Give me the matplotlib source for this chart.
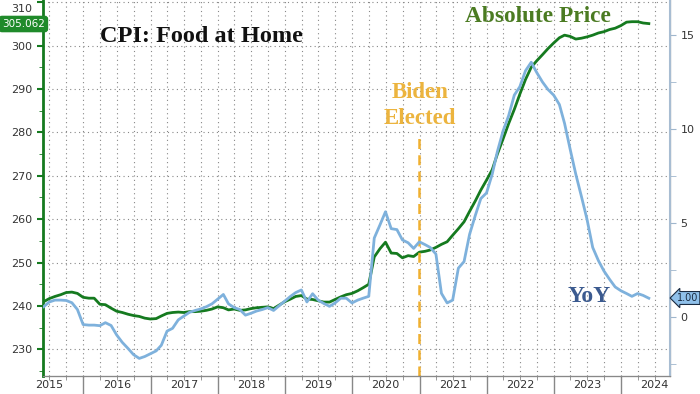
import matplotlib.pyplot as plt
import matplotlib.dates as mdates
import matplotlib.transforms as mtransforms
import pandas as pd

# monthly data, May 2015 - May 2024
dates = pd.date_range("2015-05-31", periods=109, freq="ME")

price = [241.0, 241.7, 242.2, 242.6, 243.1, 243.2, 242.9, 242.0, 241.8, 241.8, 240.4, 240.3,
         239.5, 238.8, 238.5, 238.1, 237.8, 237.6, 237.2, 237.0, 237.1, 237.7, 238.3, 238.5,
         238.6, 238.5, 238.7, 238.7, 238.8, 239.0, 239.3, 239.8, 239.6, 239.1, 239.3, 239.0,
         239.1, 239.4, 239.6, 239.7, 239.8, 239.4, 240.2, 241.0, 241.6, 242.2, 242.4, 241.6,
         241.5, 241.2, 240.9, 240.9, 241.5, 242.1, 242.6, 242.9, 243.5, 244.2, 245.0, 251.3,
         253.2, 254.7, 252.2, 252.1, 251.1, 251.6, 251.4, 252.4, 252.6, 252.9, 253.5, 254.2,
         254.8, 256.3, 257.8, 259.4, 261.8, 264.2, 266.7, 269.0, 271.4, 275.0, 278.5, 282.0,
         285.3, 288.8, 292.2, 295.0, 296.5, 297.9, 299.3, 300.6, 301.8, 302.4, 302.1, 301.5,
         301.7, 302.0, 302.4, 302.9, 303.2, 303.7, 304.0, 304.6, 305.4, 305.5, 305.5, 305.2,
         305.062]

yoy = [0.55, 0.8, 0.9, 0.9, 0.88, 0.76, 0.4, -0.4, -0.43, -0.43, -0.46, -0.3,
       -0.45, -0.95, -1.35, -1.67, -2.0, -2.2, -2.1, -1.95, -1.8, -1.5, -0.75, -0.6,
       -0.15, 0.05, 0.25, 0.35, 0.43, 0.55, 0.7, 0.95, 1.2, 0.7, 0.5, 0.4,
       0.1, 0.2, 0.32, 0.4, 0.5, 0.35, 0.6, 0.85, 1.1, 1.3, 1.44, 0.8,
       1.24, 0.9, 0.72, 0.57, 0.75, 1.0, 1.0, 0.75, 0.9, 1.0, 1.1, 4.2,
       4.9, 5.6, 4.7, 4.65, 4.1, 3.95, 3.65, 4.0, 3.85, 3.7, 3.35, 1.26,
       0.75, 0.9, 2.6, 2.95, 4.4, 5.4, 6.3, 6.6, 7.6, 8.8, 9.9, 10.7,
       11.8, 12.25, 13.1, 13.55, 13.0, 12.5, 12.1, 11.8, 11.3, 10.3, 8.9, 7.6,
       6.4, 5.2, 3.7, 3.0, 2.45, 2.0, 1.6, 1.4, 1.25, 1.1, 1.25, 1.15,
       1.0]

years = list(range(2015, 2025))
election = pd.Timestamp("2020-12-31")

green = "#157a1f"
blue = "#7eb1dc"

fig = plt.figure(figsize=(7, 3.94), dpi=100)
ax = fig.add_axes([43/700, 1 - 375.7/394, 627/700, 375.7/394])
ax2 = ax.twinx()

ax.plot(dates, price, color=green, lw=2)
ax2.plot(dates, yoy, color=blue, lw=2)

ax.set_xlim(pd.Timestamp("2015-05-27"), pd.Timestamp("2024-09-23"))
ax.set_ylim(223.94, 310.5)
ax2.set_ylim(-3.12, 16.86)

ax.set_yticks([230, 240, 250, 260, 270, 280, 290, 300, 310])
ax.set_yticks([225, 235, 245, 255, 265, 275, 285, 295, 305], minor=True)
ax2.set_yticks([0, 5, 10, 15])
ax2.set_yticks([-2.5, 2.5, 7.5, 12.5], minor=True)

ax.xaxis.set_major_locator(mdates.YearLocator())
ax.xaxis.set_minor_locator(mdates.MonthLocator(bymonth=[1, 4, 7, 10]))
ax.xaxis.set_major_formatter(plt.NullFormatter())
ax.tick_params(axis="x", which="major", length=20, color="#888888", width=1)
ax.tick_params(axis="x", which="minor", length=3, color="#888888")
ax.grid(True, axis="x", which="both", ls=(0, (1, 3)), color="#888888", lw=0.8)
ax.grid(True, axis="y", which="major", ls=(0, (1, 3)), color="#888888", lw=0.8)

ax.tick_params(axis="y", which="major", colors=green, length=4, width=1.5,
               labelcolor="#333333", labelsize=8)
ax.tick_params(axis="y", which="minor", colors=green, length=3)
ax2.tick_params(axis="y", which="both", colors="#9fb6cc", length=4,
                labelcolor="#333333", labelsize=8)

# top label sits right at the edge, nudge it down a little so it stays visible
fig.canvas.draw()
for lab in ax.get_yticklabels():
    if lab.get_text() == "310":
        lab.set_transform(lab.get_transform() +
                          mtransforms.ScaledTranslation(0, -4/72, fig.dpi_scale_trans))

ax.spines["top"].set_visible(False)
ax2.spines["top"].set_visible(False)
ax.spines["left"].set_color(green)
ax.spines["left"].set_linewidth(2)
ax2.spines["left"].set_visible(False)
ax2.spines["right"].set_color("#a8bdd2")
ax2.spines["right"].set_linewidth(1.5)
ax2.spines["bottom"].set_color("#888888")

# year labels under the axis
for y in years:
    ax.text(pd.Timestamp(f"{y}-07-01"), -0.012, str(y), transform=ax.get_xaxis_transform(),
            ha="center", va="top", fontsize=8, color="#333333", clip_on=False)

ax.axvline(election, ymin=0, ymax=(375.7 - 133) / 375.7, color="#f0b030", lw=1.8,
           ls=(0, (4, 2.5)))

serif = "Liberation Serif"
fig.text(100/700, 1 - 36/394, "CPI: Food at Home", fontsize=17.5, fontweight="bold",
         family=serif, color="#111111", va="center")
fig.text(538/700, 1 - 16/394, "Absolute Price", fontsize=16.8, fontweight="bold",
         family=serif, color="#4b7b22", va="center", ha="center")
fig.text(420/700, 1 - 92/394, "Biden", fontsize=16.5, fontweight="bold",
         family=serif, color="#ecb43e", va="center", ha="center")
fig.text(420/700, 1 - 119/394, "Elected", fontsize=16.5, fontweight="bold",
         family=serif, color="#ecb43e", va="center", ha="center")
fig.text(589/700, 1 - 297/394, "YoY", fontsize=17, fontweight="bold",
         family=serif, color="#3b5a8f", va="center", ha="center")

fig.text(2/700, 1 - 24/394, "305.062", fontsize=7.5, color="white", va="center",
         bbox=dict(boxstyle="round,pad=0.25", fc="#1f8a2a", ec="#1f8a2a"))
fig.text(677/700, 1 - 298/394, "1.00", fontsize=7, color="#1a2a40", va="center",
         bbox=dict(boxstyle="larrow,pad=0.15", fc="#8fc0ea", ec="#1a2a40", lw=0.8))

fig.savefig("out.png", dpi=100)
